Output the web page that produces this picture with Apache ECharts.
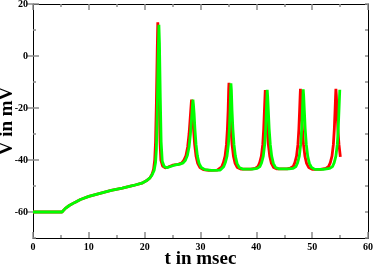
<!DOCTYPE html>
<html><head><meta charset="utf-8">
<script src="https://cdn.jsdelivr.net/npm/echarts@6/dist/echarts.min.js"></script>
<style>html,body{margin:0;padding:0;background:#fff}#c{width:374px;height:267px}</style>
</head><body><div id="c"></div>
<script>
var xTicks = [0, 10, 20, 30, 40, 50, 60];
var yTicks = [-60, -40, -20, 0, 20];

var tRed = [0,5.2,5.45,5.8,6.5,7.5,8.5,10,12,14,16,18,19.5,20.3,20.9,21.3,21.6,21.8,21.95,22.1,22.25,22.35,22.45,22.6,22.75,22.9,23.2,23.7,24.2,25,26,
  26.6,27.0,27.4,27.7,27.95,28.12,28.25,28.35,28.4,28.48,28.6,28.75,28.95,29.2,29.5,29.9,30.5,31.5,33.0,
  33.3,33.8,34.1,34.4,34.65,34.82,34.95,35.05,35.1,35.18,35.3,35.45,35.65,35.9,36.2,36.6,37.2,39,
  39.8,40.3,40.6,40.9,41.15,41.32,41.45,41.55,41.6,41.68,41.8,41.95,42.15,42.4,42.7,43.1,43.7,45.5,
  46.1,46.6,46.9,47.2,47.45,47.62,47.75,47.85,47.9,47.98,48.1,48.25,48.45,48.7,49.0,49.4,50.0,51.5,
  52.45,52.95,53.25,53.55,53.8,53.97,54.1,54.2,54.25,54.33,54.45,54.6,54.8,55.05];
var vRed = [-60,-60,-59.5,-58.6,-57.5,-56.3,-55.2,-54,-52.8,-51.7,-50.8,-49.8,-48.9,-48,-47,-45.6,-43.5,-40,-33,-18,2,13,6,-15,-33,-40,-42.3,-43,-42.7,-42,-41.7,
  -41.2,-40.2,-38.3,-35,-30,-25,-21,-18,-16.8,-18.5,-22,-28,-34,-38.5,-41.3,-42.9,-43.7,-44,-43.9,
  -43.5,-42.6,-41,-38.5,-34,-28,-21,-12.8,-10.3,-12.8,-21,-28,-34,-38.5,-41.3,-42.9,-43.5,-43.5,
  -43.2,-42.5,-41,-38.5,-34,-28,-21,-15.6,-13.1,-15.6,-21,-28,-34,-38.5,-41.3,-42.9,-43.4,-43.4,
  -43.1,-42.5,-41,-38.5,-34,-28,-21,-15.1,-12.6,-15.1,-21,-28,-34,-38.5,-41.3,-42.9,-43.6,-43.6,
  -43.2,-42.5,-41,-38.5,-34,-28,-21,-15.1,-12.6,-15.1,-21,-28,-34,-38.8];

var tGreen = [0,5.2,5.45,5.8,6.5,7.5,8.5,10,12,14,16,18,19.5,20.3,20.9,21.3,21.7,21.95,22.1,22.25,22.4,22.55,22.65,22.8,22.95,23.15,23.5,24.0,24.5,25.3,26.3,
  26.9,27.3,27.65,27.95,28.2,28.37,28.5,28.6,28.65,28.73,28.85,29.0,29.2,29.45,29.75,30.15,30.8,32,33.5,
  33.65,34.15,34.45,34.75,35.0,35.17,35.3,35.4,35.45,35.53,35.65,35.8,36.0,36.25,36.55,36.95,37.55,39.3,
  40.15,40.65,40.95,41.25,41.5,41.67,41.8,41.9,41.95,42.03,42.15,42.3,42.5,42.75,43.05,43.45,44.05,45.8,
  46.6,47.1,47.4,47.7,47.95,48.12,48.25,48.35,48.4,48.48,48.6,48.75,48.95,49.2,49.5,49.9,50.5,52,
  53.15,53.65,53.95,54.25,54.5,54.67,54.8,54.9,54.95];
var vGreen = [-60,-60,-59.5,-58.6,-57.5,-56.3,-55.2,-54,-52.8,-51.7,-50.8,-49.8,-48.9,-48,-47,-45.8,-44,-41,-36,-22,-2,12,5,-16,-33,-40.5,-42.5,-43,-42.6,-42,-41.6,
  -41.1,-40.1,-38.3,-35,-30,-25,-21,-18,-16.8,-18.5,-22,-28,-34,-38.5,-41.3,-42.9,-43.7,-44,-43.9,
  -43.5,-42.6,-41,-38.5,-34,-28,-21,-13,-10.5,-13,-21,-28,-34,-38.5,-41.3,-42.9,-43.5,-43.5,
  -43.2,-42.5,-41,-38.5,-34,-28,-21,-15.5,-13,-15.5,-21,-28,-34,-38.5,-41.3,-42.9,-43.4,-43.4,
  -43.2,-42.5,-41,-38.5,-34,-28,-21,-15.3,-12.8,-15.3,-21,-28,-34,-38.5,-41.3,-42.9,-43.6,-43.6,
  -43.2,-42.5,-41,-38.5,-34,-28,-21,-15.5,-13];

function pairs(t, v) { return t.map(function (x, i) { return [x, v[i]]; }); }

var font = '"Liberation Serif", "DejaVu Serif", serif';
var tickGrey = '#8c8c8c';
function inSet(arr, v) { return arr.indexOf(v) >= 0; }

var chart = echarts.init(document.getElementById('c'), null, { renderer: 'canvas' });
chart.setOption({
  animation: false,
  backgroundColor: '#fff',
  grid: { left: 33, right: 6, top: 4, bottom: 29, containLabel: false, outerBoundsMode: 'none' },
  xAxis: [
    {
      type: 'value', position: 'bottom', min: 0, max: 60, interval: 10,
      name: 't in msec', nameLocation: 'middle', nameGap: 21, nameMoveOverlap: false,
      nameTextStyle: { fontFamily: font, fontWeight: 'bold', fontSize: 19, color: '#000', verticalAlign: 'middle' },
      axisLine: { show: true, onZero: false, lineStyle: { color: '#000', width: 1 } },
      axisTick: { show: true, inside: true, length: 6, lineStyle: { color: tickGrey, width: 1.5 } },
      minorTick: { show: true, splitNumber: 2, length: 3, lineStyle: { color: tickGrey, width: 1.5 } },
      axisLabel: { show: true, margin: 4, fontFamily: font, fontWeight: 'bold', fontSize: 10, color: '#000',
        formatter: function (v) { return inSet(xTicks, v) ? String(v) : ''; } },
      splitLine: { show: false }
    },
    {
      type: 'value', position: 'top', min: 0, max: 60, interval: 10,
      axisLine: { show: true, onZero: false, lineStyle: { color: '#000', width: 1 } },
      axisTick: { show: true, inside: true, length: 6, lineStyle: { color: tickGrey, width: 1.5 } },
      minorTick: { show: true, splitNumber: 2, length: 3, lineStyle: { color: tickGrey, width: 1.5 } },
      axisLabel: { show: false },
      splitLine: { show: false }
    }
  ],
  yAxis: [
    {
      type: 'value', position: 'left', min: -70, max: 20, interval: 10,
      name: 'V in mV', nameLocation: 'middle', nameGap: 26, nameRotate: 90, nameMoveOverlap: false,
      nameTextStyle: { fontFamily: font, fontWeight: 'bold', fontSize: 19, color: '#000', verticalAlign: 'middle', align: 'center' },
      axisLine: { show: true, onZero: false, lineStyle: { color: '#000', width: 1 } },
      axisTick: { show: true, inside: true, length: 3, lineStyle: { color: tickGrey, width: 1.5 } },
      axisLabel: { show: true, margin: 5, fontFamily: font, fontWeight: 'bold', fontSize: 10, color: '#000',
        formatter: function (v) { return inSet(yTicks, v) ? String(v) : ''; } },
      splitLine: { show: false }
    },
    {
      type: 'value', position: 'left', min: -70, max: 20, interval: 10,
      axisLine: { show: false },
      axisTick: { show: true, inside: true, length: 6, customValues: yTicks, lineStyle: { color: tickGrey, width: 1.5 } },
      axisLabel: { show: false },
      splitLine: { show: false }
    },
    {
      type: 'value', position: 'right', min: -70, max: 20, interval: 10,
      axisLine: { show: true, onZero: false, lineStyle: { color: '#000', width: 1 } },
      axisTick: { show: true, inside: true, length: 3, lineStyle: { color: tickGrey, width: 1.5 } },
      axisLabel: { show: false },
      splitLine: { show: false }
    },
    {
      type: 'value', position: 'right', min: -70, max: 20, interval: 10,
      axisLine: { show: false },
      axisTick: { show: true, inside: true, length: 6, customValues: yTicks, lineStyle: { color: tickGrey, width: 1.5 } },
      axisLabel: { show: false },
      splitLine: { show: false }
    }
  ],
  series: [
    { type: 'line', xAxisIndex: 0, yAxisIndex: 0, data: pairs(tRed, vRed), showSymbol: false, symbol: 'none',
      lineStyle: { color: '#ff0000', width: 2.8 }, itemStyle: { color: '#ff0000' }, z: 2 },
    { type: 'line', xAxisIndex: 0, yAxisIndex: 0, data: pairs(tGreen, vGreen), showSymbol: false, symbol: 'none',
      lineStyle: { color: '#00ff00', width: 2.8 }, itemStyle: { color: '#00ff00' }, z: 3 }
  ]
});
</script>
</body></html>
